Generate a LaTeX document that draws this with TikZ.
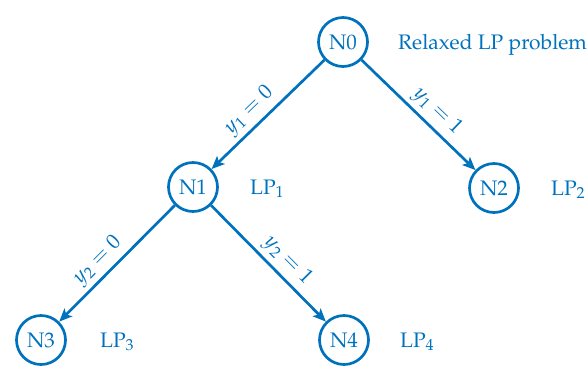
\documentclass[tikz,border=0pt]{standalone}
\usepackage[T1]{fontenc}
\usepackage{mathpazo}
\usetikzlibrary{arrows.meta}
\definecolor{mblue}{RGB}{0,114,189}
\begin{document}
\begin{tikzpicture}[x=1pt,y=-1pt,
  every node/.style={text=mblue},
  tn/.style={circle, draw=mblue, line width=2.7pt, minimum size=49pt, inner sep=0pt, font=\fontsize{21}{25}\selectfont},
  lp/.style={anchor=base west, inner sep=0pt, font=\fontsize{21}{25}\selectfont},
  edge/.style={draw=mblue, line width=2.7pt, -{Stealth[length=13pt,width=11pt,inset=3pt]}},
  lab/.style={sloped, above, pos=0.57, inner sep=4pt, font=\fontsize{21}{25}\selectfont}]
\useasboundingbox (0,0) rectangle (588,365);
\node[tn] (N0) at (343,42) {N0};
\node[tn] (N1) at (193,187) {N1};
\node[tn] (N2) at (494,188) {N2};
\node[tn] (N3) at (41,340) {N3};
\node[tn] (N4) at (344,340) {N4};
\node[lp] (L0) at (N0.base -| 398,0) {Relaxed LP problem};
\node[lp] (L1) at (N1.base -| 250,0) {LP$_1$};
\node[lp] (L2) at (N2.base -| 551,0) {LP$_2$};
\node[lp] (L3) at (N3.base -| 100,0) {LP$_3$};
\node[lp] (L4) at (N4.base -| 400,0) {LP$_4$};
\draw[edge] (N0) -- node[lab] {$y_1=0$} (N1);
\draw[edge] (N0) -- node[lab] {$y_1=1$} (N2);
\draw[edge] (N1) -- node[lab] {$y_2=0$} (N3);
\draw[edge] (N1) -- node[lab] {$y_2=1$} (N4);
\end{tikzpicture}
\end{document}
